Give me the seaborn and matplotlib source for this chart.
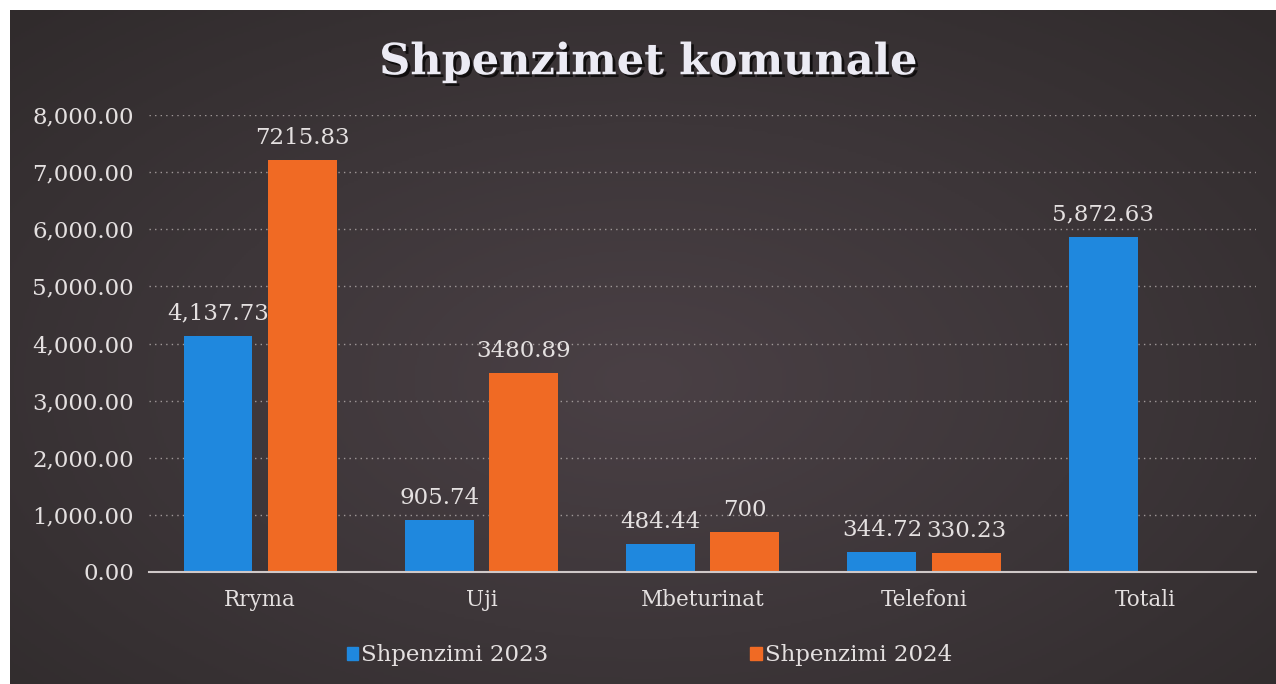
import numpy as np
import pandas as pd
import matplotlib
matplotlib.use("Agg")
import matplotlib.pyplot as plt
import matplotlib.patheffects as pe
from matplotlib.colors import LinearSegmentedColormap
from matplotlib.ticker import StrMethodFormatter
import seaborn as sns

# ---- data ----
categories = ["Rryma", "Uji", "Mbeturinat", "Telefoni", "Totali"]
values_2023 = [4137.73, 905.74, 484.44, 344.72, 5872.63]
values_2024 = [7215.83, 3480.89, 700, 330.23, np.nan]
series_names = ["Shpenzimi 2023", "Shpenzimi 2024"]
title = "Shpenzimet komunale"
y_ticks = [0, 1000, 2000, 3000, 4000, 5000, 6000, 7000, 8000]

df = pd.DataFrame({
    "Kategoria": categories * 2,
    "Vlera": values_2023 + values_2024,
    "Seria": [series_names[0]] * len(categories) + [series_names[1]] * len(categories),
})

sns.set_style("white")
plt.rcParams["font.family"] = ["DejaVu Serif", "DejaVu Sans"]

W, H = 1276, 684
fig = plt.figure(figsize=(W / 100, H / 100), dpi=100, facecolor="white")

# background panel with radial gradient
bg = fig.add_axes([10 / W, 0, 1 - 10 / W, 1 - 10 / H])
bg.set_axis_off()
yy, xx = np.mgrid[0:1:300j, 0:1:600j]
r = np.sqrt(((xx - 0.5) / 0.75) ** 2 + ((yy - 0.45) / 0.8) ** 2)
r = np.clip(r / r.max(), 0, 1)
cmap_bg = LinearSegmentedColormap.from_list("bg", ["#4a4045", "#3d3639", "#302b2c"])
bg.imshow(r, cmap=cmap_bg, aspect="auto", extent=[0, 1, 0, 1], origin="lower")
bg.set_xlim(0, 1)
bg.set_ylim(0, 1)

ax = fig.add_axes([149.4 / W, 1 - 572 / H, (1256 - 149.4) / W, (572 - 115) / H])
ax.patch.set_alpha(0)

palette = {series_names[0]: "#1f88de", series_names[1]: "#f06a24"}
sns.barplot(data=df, x="Kategoria", y="Vlera", hue="Seria", palette=palette,
            width=0.76, gap=0.18, saturation=1, ax=ax, legend=False, zorder=3,
            edgecolor="none", linewidth=0)

txt_color = "#e4e0e0"
ax.set_ylim(0, 8000)
ax.set_yticks(y_ticks)
ax.yaxis.set_major_formatter(StrMethodFormatter("{x:,.2f}"))
ax.set_xlabel("")
ax.set_ylabel("")
ax.tick_params(axis="y", length=0, pad=11, labelsize=16.5, labelcolor=txt_color)
ax.tick_params(axis="x", length=0, pad=12, labelsize=15.5, labelcolor=txt_color)
ax.grid(axis="y", color="#a09898", linestyle=(0, (1, 3)), linewidth=1.0, zorder=0)
ax.set_axisbelow(True)
for s in ["top", "right", "left"]:
    ax.spines[s].set_visible(False)
ax.spines["bottom"].set_color("#cfc8c8")
ax.spines["bottom"].set_linewidth(1.5)
ax.spines["bottom"].set_zorder(4)

fmts = [lambda v: f"{v:,.2f}", lambda v: f"{v:g}"]
for cont, f in zip(ax.containers, fmts):
    ax.bar_label(cont, fmt=f, padding=8, fontsize=16.5, color=txt_color)

fig.text(0.508, 0.909, title, ha="center", va="center", fontsize=31,
         fontweight="bold", color="#ecebf4",
         path_effects=[pe.withSimplePatchShadow(offset=(2, -2), shadow_rgbFace="black", alpha=0.7)])

handles = [plt.Rectangle((0, 0), 1, 1, color=palette[n]) for n in series_names]
fig.legend(handles, series_names, loc="center", bbox_to_anchor=(0.509, 0.042), ncol=2,
           frameon=False, fontsize=16.5, labelcolor=txt_color, handlelength=0.5,
           handleheight=0.5, handletextpad=0.15, columnspacing=8.8)

fig.savefig("out.png", dpi=100, facecolor=fig.get_facecolor())
